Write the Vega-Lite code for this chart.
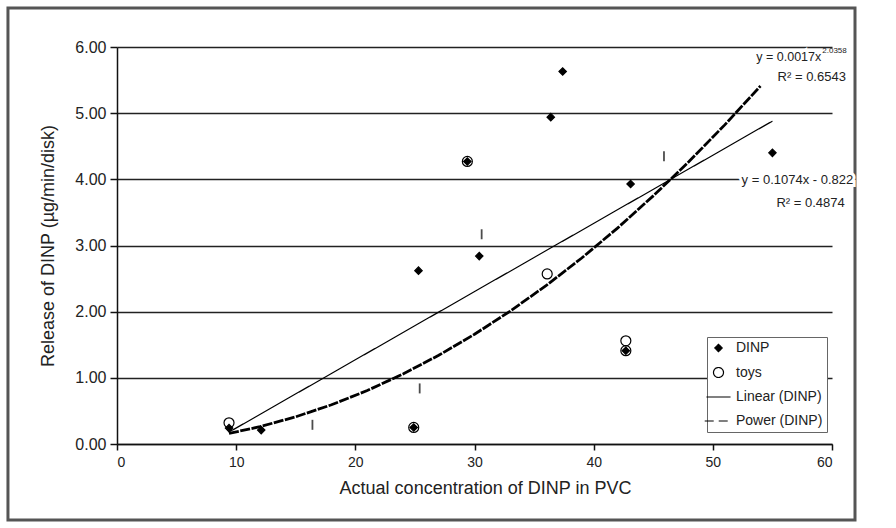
{
  "$schema": "https://vega.github.io/schema/vega-lite/v6.json",
  "width": 715,
  "height": 397,
  "autosize": {"type": "none"},
  "padding": {"left": 117, "top": 47, "right": 64, "bottom": 84},
  "background": "white",
  "config": {
    "font": "Liberation Sans",
    "view": {"stroke": null},
    "axis": {
      "domainColor": "#111", "domainWidth": 1.5, "tickColor": "#111", "tickWidth": 1.5,
      "labelColor": "#222", "titleFontSize": 18, "titleFontWeight": "normal", "titleColor": "#222"
    },
    "legend": {
      "orient": "none", "legendX": 590, "legendY": 290,
      "strokeColor": "#666", "fillColor": "white", "padding": 4, "rowPadding": 9.5,
      "labelFontSize": 14, "labelColor": "#222", "labelOffset": 10,
      "symbolStrokeColor": "black", "symbolStrokeWidth": 1.2
    }
  },
  "datasets": {
    "pts": [
      {"series": "DINP", "x": 9.4, "y": 0.24},
      {"series": "DINP", "x": 12.1, "y": 0.21},
      {"series": "DINP", "x": 24.9, "y": 0.25},
      {"series": "DINP", "x": 25.3, "y": 2.62},
      {"series": "DINP", "x": 29.4, "y": 4.27},
      {"series": "DINP", "x": 30.4, "y": 2.84},
      {"series": "DINP", "x": 36.4, "y": 4.94},
      {"series": "DINP", "x": 37.4, "y": 5.63},
      {"series": "DINP", "x": 42.7, "y": 1.41},
      {"series": "DINP", "x": 43.1, "y": 3.93},
      {"series": "DINP", "x": 55.0, "y": 4.4},
      {"series": "toys", "x": 9.4, "y": 0.32},
      {"series": "toys", "x": 24.9, "y": 0.25},
      {"series": "toys", "x": 29.4, "y": 4.27},
      {"series": "toys", "x": 36.1, "y": 2.57},
      {"series": "toys", "x": 42.7, "y": 1.41},
      {"series": "toys", "x": 42.7, "y": 1.56},
      {"series": "Linear (DINP)", "x": 9.4, "y": 0.18},
      {"series": "Linear (DINP)", "x": 55.0, "y": 4.88},
      {"series": "Power (DINP)", "x": 9.4, "y": 0.16},
      {"series": "Power (DINP)", "x": 12, "y": 0.262},
      {"series": "Power (DINP)", "x": 15, "y": 0.411},
      {"series": "Power (DINP)", "x": 18, "y": 0.593},
      {"series": "Power (DINP)", "x": 21, "y": 0.808},
      {"series": "Power (DINP)", "x": 24, "y": 1.058},
      {"series": "Power (DINP)", "x": 27, "y": 1.341},
      {"series": "Power (DINP)", "x": 30, "y": 1.658},
      {"series": "Power (DINP)", "x": 33, "y": 2.009},
      {"series": "Power (DINP)", "x": 36, "y": 2.393},
      {"series": "Power (DINP)", "x": 39, "y": 2.811},
      {"series": "Power (DINP)", "x": 42, "y": 3.263},
      {"series": "Power (DINP)", "x": 45, "y": 3.75},
      {"series": "Power (DINP)", "x": 48, "y": 4.269},
      {"series": "Power (DINP)", "x": 51, "y": 4.823},
      {"series": "Power (DINP)", "x": 54, "y": 5.411},
      {"series": "err", "x": 16.4, "y": 0.29},
      {"series": "err", "x": 25.4, "y": 0.84},
      {"series": "err", "x": 30.6, "y": 3.17},
      {"series": "err", "x": 45.9, "y": 4.35}
    ],
    "eq": [
      {"kind": "main", "x": 59.1, "y": 5.85, "text": "y = 0.0017x"},
      {"kind": "sup", "x": 59.1, "y": 5.85, "text": "2.0358"},
      {"kind": "center", "x": 58.3, "y": 5.55, "text": "R² = 0.6543"},
      {"kind": "center", "x": 57.1, "y": 3.99, "text": "y = 0.1074x - 0.822"},
      {"kind": "center", "x": 58.2, "y": 3.64, "text": "R² = 0.4874"}
    ],
    "frame": [{"x1": -9.15, "x2": 61.93, "y1": 6.59, "y2": -1.15}]
  },
  "layer": [
    {
      "data": {"name": "frame"},
      "mark": {"type": "rect", "fill": "transparent", "stroke": "#555", "strokeWidth": 3},
      "encoding": {
        "x": {"field": "x1", "type": "quantitative", "scale": {"domain": [0, 60], "nice": false},
          "axis": {"values": [0, 10, 20, 30, 40, 50, 60], "title": "Actual concentration of DINP in PVC", "grid": false, "tickSize": 6, "labelFontSize": 14, "labelPadding": 5, "titlePadding": 10, "titleX": 368}},
        "x2": {"field": "x2"},
        "y": {"field": "y1", "type": "quantitative", "scale": {"domain": [0, 6], "nice": false},
          "axis": {"values": [0, 1, 2, 3, 4, 5, 6], "format": ".2f", "title": "Release of DINP (µg/min/disk)", "grid": true, "gridColor": "#222", "gridWidth": 1.5, "tickSize": 7, "labelFontSize": 16, "labelPadding": 4, "titlePadding": 17}},
        "y2": {"field": "y2"}
      }
    },
    {
      "data": {"name": "pts"},
      "transform": [{"filter": "datum.series === 'Linear (DINP)'"}],
      "mark": {"type": "line", "strokeWidth": 1.2},
      "encoding": {
        "x": {"field": "x", "type": "quantitative"},
        "y": {"field": "y", "type": "quantitative"},
        "stroke": {"field": "series", "type": "nominal",
          "scale": {"domain": ["DINP", "toys", "Linear (DINP)", "Power (DINP)"], "range": ["black", "black", "black", "black"]},
          "legend": {"title": null}},
        "strokeDash": {"field": "series", "type": "nominal",
          "scale": {"domain": ["DINP", "toys", "Linear (DINP)", "Power (DINP)"], "range": [[1, 0], [1, 0], [1, 0], [9, 5]]},
          "legend": {"title": null}}
      }
    },
    {
      "data": {"name": "pts"},
      "transform": [{"filter": "datum.series === 'Power (DINP)'"}],
      "mark": {"type": "line", "strokeWidth": 2.8},
      "encoding": {
        "x": {"field": "x", "type": "quantitative"},
        "y": {"field": "y", "type": "quantitative"},
        "stroke": {"field": "series", "type": "nominal", "legend": {"title": null}},
        "strokeDash": {"value": [10, 1.5]}
      }
    },
    {
      "data": {"name": "pts"},
      "transform": [{"filter": "datum.series === 'DINP' || datum.series === 'toys'"}],
      "mark": {"type": "point", "opacity": 1, "strokeWidth": 1.2},
      "encoding": {
        "x": {"field": "x", "type": "quantitative"},
        "y": {"field": "y", "type": "quantitative"},
        "stroke": {"field": "series", "type": "nominal", "legend": {"title": null}},
        "shape": {"field": "series", "type": "nominal",
          "scale": {"domain": ["DINP", "toys", "Linear (DINP)", "Power (DINP)"], "range": ["diamond", "circle", "M-2,0H2", "M-2,0H2"]},
          "legend": {"title": null}},
        "fill": {"field": "series", "type": "nominal",
          "scale": {"domain": ["DINP", "toys", "Linear (DINP)", "Power (DINP)"], "range": ["black", "transparent", "transparent", "transparent"]},
          "legend": {"title": null}},
        "size": {"field": "series", "type": "nominal",
          "scale": {"domain": ["DINP", "toys", "Linear (DINP)", "Power (DINP)"], "range": [55, 190, 200, 200]},
          "legend": {"title": null}}
      }
    },
    {
      "data": {"name": "pts"},
      "transform": [{"filter": "datum.series === 'err'"}],
      "mark": {"type": "tick", "orient": "vertical", "color": "black", "thickness": 1.8, "size": 10},
      "encoding": {
        "x": {"field": "x", "type": "quantitative"},
        "y": {"field": "y", "type": "quantitative"}
      }
    },
    {
      "data": {"name": "eq"},
      "transform": [{"filter": "datum.kind === 'main'"}],
      "mark": {"type": "text", "align": "right", "baseline": "middle", "fontSize": 12.5, "color": "white", "stroke": "white", "strokeWidth": 6},
      "encoding": {"x": {"field": "x", "type": "quantitative"}, "y": {"field": "y", "type": "quantitative"}, "text": {"field": "text"}}
    },
    {
      "data": {"name": "eq"},
      "transform": [{"filter": "datum.kind === 'center'"}],
      "mark": {"type": "text", "align": "center", "baseline": "middle", "fontSize": 13, "color": "white", "stroke": "white", "strokeWidth": 6},
      "encoding": {"x": {"field": "x", "type": "quantitative"}, "y": {"field": "y", "type": "quantitative"}, "text": {"field": "text"}}
    },
    {
      "data": {"name": "eq"},
      "transform": [{"filter": "datum.kind === 'main'"}],
      "mark": {"type": "text", "align": "right", "baseline": "middle", "fontSize": 12.5, "color": "#222"},
      "encoding": {"x": {"field": "x", "type": "quantitative"}, "y": {"field": "y", "type": "quantitative"}, "text": {"field": "text"}}
    },
    {
      "data": {"name": "eq"},
      "transform": [{"filter": "datum.kind === 'sup'"}],
      "mark": {"type": "text", "align": "left", "baseline": "middle", "fontSize": 8, "dx": 1, "dy": -6, "color": "#222"},
      "encoding": {"x": {"field": "x", "type": "quantitative"}, "y": {"field": "y", "type": "quantitative"}, "text": {"field": "text"}}
    },
    {
      "data": {"name": "eq"},
      "transform": [{"filter": "datum.kind === 'center'"}],
      "mark": {"type": "text", "align": "center", "baseline": "middle", "fontSize": 13, "color": "#222"},
      "encoding": {"x": {"field": "x", "type": "quantitative"}, "y": {"field": "y", "type": "quantitative"}, "text": {"field": "text"}}
    }
  ]
}
